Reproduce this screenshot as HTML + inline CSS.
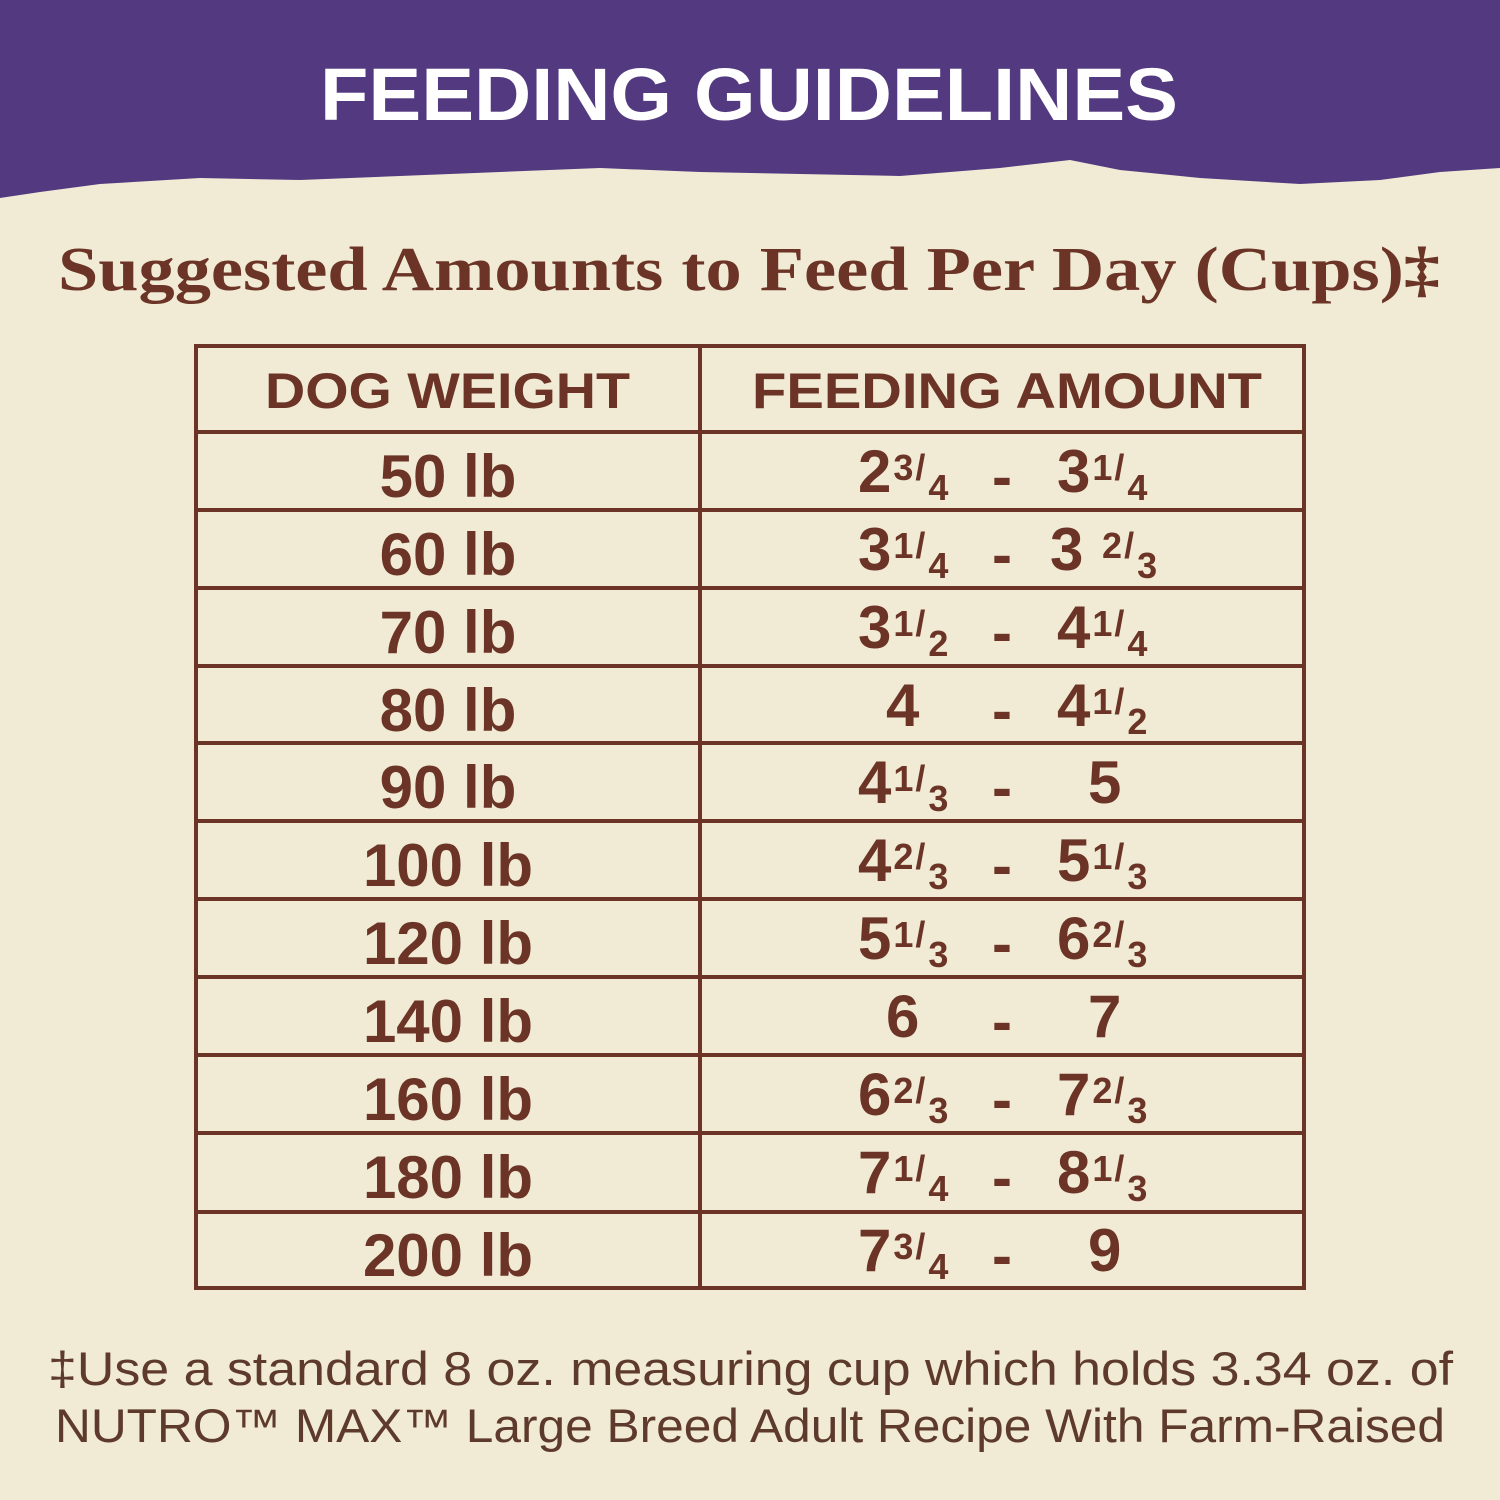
<!DOCTYPE html>
<html><head><meta charset="utf-8"><style>
html,body{margin:0;padding:0;background:#f1ebd6;}
svg{display:block}
.n{font-family:"Liberation Sans",sans-serif;font-weight:bold;fill:#6b3426;font-size:60px}
.f{font-size:36px}
</style></head><body>
<svg width="1500" height="1500" viewBox="0 0 1500 1500" xmlns="http://www.w3.org/2000/svg">
<rect width="1500" height="1500" fill="#f1ebd6"/>
<path d="M0 0H1500V168L1440 172 1380 180 1300 184 1200 178 1120 170 1070 160 1000 168 900 176 700 172 600 168 500 172 400 176 300 180 200 178 100 184 40 192 0 198Z" fill="#533a80"/>
<text x="749" y="120" text-anchor="middle" textLength="858" lengthAdjust="spacingAndGlyphs" font-family="Liberation Sans,sans-serif" font-weight="bold" font-size="74" fill="#fff">FEEDING GUIDELINES</text>
<text x="58" y="290" textLength="1382" lengthAdjust="spacingAndGlyphs" font-family="Liberation Serif,serif" font-weight="bold" font-size="62" fill="#6b3426">Suggested Amounts to Feed Per Day (Cups)‡</text>
<g stroke="#6b3426" stroke-width="4" fill="none">
<rect x="196" y="346" width="1108" height="942"/>
<line x1="700" y1="346" x2="700" y2="1288"/>
<line x1="196" y1="432" x2="1304" y2="432"/>
<line x1="196" y1="510" x2="1304" y2="510"/>
<line x1="196" y1="588" x2="1304" y2="588"/>
<line x1="196" y1="666" x2="1304" y2="666"/>
<line x1="196" y1="743" x2="1304" y2="743"/>
<line x1="196" y1="821" x2="1304" y2="821"/>
<line x1="196" y1="899" x2="1304" y2="899"/>
<line x1="196" y1="977" x2="1304" y2="977"/>
<line x1="196" y1="1055" x2="1304" y2="1055"/>
<line x1="196" y1="1133" x2="1304" y2="1133"/>
<line x1="196" y1="1212" x2="1304" y2="1212"/>
</g>
<text x="265" y="408" textLength="365" lengthAdjust="spacingAndGlyphs" class="n" style="font-size:50px">DOG WEIGHT</text>
<text x="752" y="408" textLength="510" lengthAdjust="spacingAndGlyphs" class="n" style="font-size:50px">FEEDING AMOUNT</text>
<g class="n" text-anchor="middle">
<text x="448" y="497">50 lb</text>
<text x="448" y="575">60 lb</text>
<text x="448" y="653">70 lb</text>
<text x="448" y="731">80 lb</text>
<text x="448" y="808">90 lb</text>
<text x="448" y="886">100 lb</text>
<text x="448" y="964">120 lb</text>
<text x="448" y="1042">140 lb</text>
<text x="448" y="1120">160 lb</text>
<text x="448" y="1198">180 lb</text>
<text x="448" y="1276">200 lb</text>
</g>
<g class="n">
<text x="992" y="497">-</text><text x="992" y="575">-</text><text x="992" y="653">-</text><text x="992" y="731">-</text><text x="992" y="808">-</text><text x="992" y="886">-</text><text x="992" y="964">-</text><text x="992" y="1042">-</text><text x="992" y="1120">-</text><text x="992" y="1198">-</text><text x="992" y="1276">-</text>
<text x="858" y="492">2<tspan class="f" dy="-12" dx="2">3</tspan><tspan class="f" dx="2">/</tspan><tspan class="f" dy="20" dx="3">4</tspan></text>
<text x="1057" y="492">3<tspan class="f" dy="-12" dx="2">1</tspan><tspan class="f" dx="2">/</tspan><tspan class="f" dy="20" dx="3">4</tspan></text>
<text x="858" y="570">3<tspan class="f" dy="-12" dx="2">1</tspan><tspan class="f" dx="2">/</tspan><tspan class="f" dy="20" dx="3">4</tspan></text>
<text x="1050" y="570">3 <tspan class="f" dy="-12" dx="2">2</tspan><tspan class="f" dx="2">/</tspan><tspan class="f" dy="20" dx="3">3</tspan></text>
<text x="858" y="648">3<tspan class="f" dy="-12" dx="2">1</tspan><tspan class="f" dx="2">/</tspan><tspan class="f" dy="20" dx="3">2</tspan></text>
<text x="1057" y="648">4<tspan class="f" dy="-12" dx="2">1</tspan><tspan class="f" dx="2">/</tspan><tspan class="f" dy="20" dx="3">4</tspan></text>
<text x="886" y="726">4</text>
<text x="1057" y="726">4<tspan class="f" dy="-12" dx="2">1</tspan><tspan class="f" dx="2">/</tspan><tspan class="f" dy="20" dx="3">2</tspan></text>
<text x="858" y="803">4<tspan class="f" dy="-12" dx="2">1</tspan><tspan class="f" dx="2">/</tspan><tspan class="f" dy="20" dx="3">3</tspan></text>
<text x="1088" y="803">5</text>
<text x="858" y="881">4<tspan class="f" dy="-12" dx="2">2</tspan><tspan class="f" dx="2">/</tspan><tspan class="f" dy="20" dx="3">3</tspan></text>
<text x="1057" y="881">5<tspan class="f" dy="-12" dx="2">1</tspan><tspan class="f" dx="2">/</tspan><tspan class="f" dy="20" dx="3">3</tspan></text>
<text x="858" y="959">5<tspan class="f" dy="-12" dx="2">1</tspan><tspan class="f" dx="2">/</tspan><tspan class="f" dy="20" dx="3">3</tspan></text>
<text x="1057" y="959">6<tspan class="f" dy="-12" dx="2">2</tspan><tspan class="f" dx="2">/</tspan><tspan class="f" dy="20" dx="3">3</tspan></text>
<text x="886" y="1037">6</text>
<text x="1088" y="1037">7</text>
<text x="858" y="1115">6<tspan class="f" dy="-12" dx="2">2</tspan><tspan class="f" dx="2">/</tspan><tspan class="f" dy="20" dx="3">3</tspan></text>
<text x="1057" y="1115">7<tspan class="f" dy="-12" dx="2">2</tspan><tspan class="f" dx="2">/</tspan><tspan class="f" dy="20" dx="3">3</tspan></text>
<text x="858" y="1193">7<tspan class="f" dy="-12" dx="2">1</tspan><tspan class="f" dx="2">/</tspan><tspan class="f" dy="20" dx="3">4</tspan></text>
<text x="1057" y="1193">8<tspan class="f" dy="-12" dx="2">1</tspan><tspan class="f" dx="2">/</tspan><tspan class="f" dy="20" dx="3">3</tspan></text>
<text x="858" y="1271">7<tspan class="f" dy="-12" dx="2">3</tspan><tspan class="f" dx="2">/</tspan><tspan class="f" dy="20" dx="3">4</tspan></text>
<text x="1088" y="1271">9</text>
</g>
<text x="48" y="1385" textLength="1405" lengthAdjust="spacingAndGlyphs" font-family="Liberation Sans,sans-serif" font-size="47" fill="#5d3a2c">‡Use a standard 8 oz. measuring cup which holds 3.34 oz. of</text>
<text x="55" y="1442" textLength="1390" lengthAdjust="spacingAndGlyphs" font-family="Liberation Sans,sans-serif" font-size="47" fill="#5d3a2c">NUTRO™ MAX™ Large Breed Adult Recipe With Farm-Raised</text>
</svg>
</body></html>
